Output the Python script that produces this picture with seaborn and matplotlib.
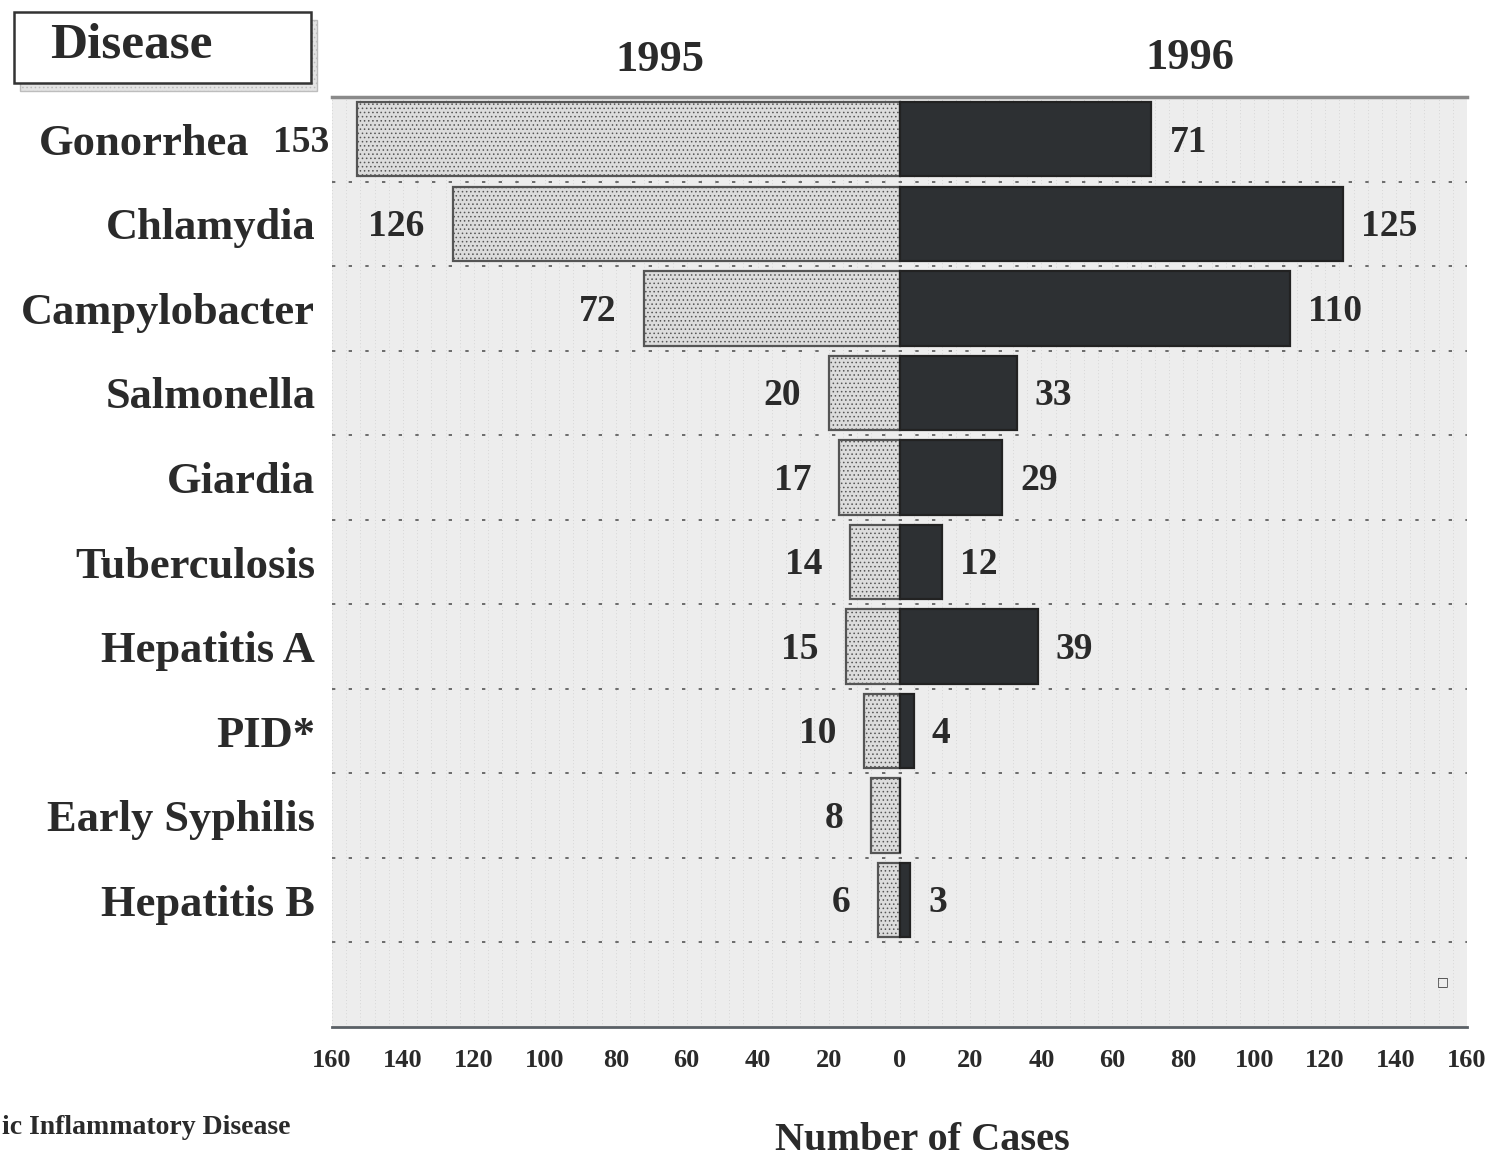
import matplotlib
matplotlib.use("Agg")
import matplotlib.pyplot as plt
import matplotlib.patches as mpatches
import matplotlib.transforms as mtransforms
import seaborn as sns
import pandas as pd

# ---- data ----
diseases = ["Gonorrhea", "Chlamydia", "Campylobacter", "Salmonella", "Giardia",
            "Tuberculosis", "Hepatitis A", "PID*", "Early Syphilis", "Hepatitis B"]
cases_1995 = [153, 126, 72, 20, 17, 14, 15, 10, 8, 6]
cases_1996 = [71, 125, 110, 33, 29, 12, 39, 4, 0, 3]
years = ["1995", "1996"]
xticks = list(range(-160, 161, 20))
xtick_labels = [str(abs(t)) for t in xticks]

df = pd.DataFrame({
    "disease": diseases * 2,
    "year": [years[0]] * len(diseases) + [years[1]] * len(diseases),
    "cases": cases_1995 + cases_1996,
})
df["signed"] = df.apply(lambda r: -r["cases"] if r["year"] == years[0] else r["cases"], axis=1)

sns.set_theme(style="white")
plt.rcParams["font.family"] = ["Liberation Serif", "DejaVu Serif"]
plt.rcParams["font.weight"] = "bold"
plt.rcParams["hatch.linewidth"] = 0.6

W, H = 1493, 1157
fig = plt.figure(figsize=(W / 100, H / 100), dpi=100)
fig.patch.set_facecolor("white")
ax = fig.add_axes([332 / W, 1 - 1027 / H, (1467 - 332) / W, (1027 - 97) / H])
ax.set_facecolor("#ededed")

light = "#dcdcdc"
dark = "#2c3034"
sns.barplot(data=df, x="signed", y="disease", hue="year", order=diseases,
            hue_order=years, dodge=False, orient="h", width=0.88,
            palette={years[0]: light, years[1]: dark}, edgecolor="#222222",
            linewidth=1.6, legend=False, ax=ax)

for p in ax.containers[0]:
    p.set_hatch("....")
    p.set_edgecolor("#555555")

# value labels
for i, (a, b) in enumerate(zip(cases_1995, cases_1996)):
    if a:
        ax.annotate(str(a), xy=(-a, i), xytext=(-20, -2), textcoords="offset points",
                    ha="right", va="center", fontsize=27, fontweight="bold", color="#2a2a2a")
    if b:
        ax.annotate(str(b), xy=(b, i), xytext=(13, -2), textcoords="offset points",
                    ha="left", va="center", fontsize=27, fontweight="bold", color="#2a2a2a")

# row separators
for i in range(len(diseases)):
    ax.axhline(i + 0.5, color="#555555", lw=1.2, ls=(0, (2, 8)), zorder=0.5)

# light dotted texture
for x in range(-160, 161, 4):
    ax.axvline(x, color="#d0d0d0", lw=0.6, ls=(0, (1, 3)), zorder=0.2)

ax.set_xlim(-160, 160)
ax.set_ylim(len(diseases) + 0.5, -0.5)
ax.set_xticks(xticks)
ax.set_xticklabels(xtick_labels, fontsize=19, fontweight="bold", color="#2a2a2a")
ax.tick_params(axis="x", length=0, pad=16)
ax.tick_params(axis="y", length=0, pad=12)
ax.set_yticklabels(diseases, fontsize=32, fontweight="bold", color="#2a2a2a")
# Gonorrhea label shifted left to make room for its 1995 value
for lab in ax.get_yticklabels():
    if lab.get_text() == diseases[0]:
        lab.set_transform(lab.get_transform() +
                          mtransforms.ScaledTranslation(-66 / 100, 0, fig.dpi_scale_trans))
ax.set_xlabel("")
ax.set_ylabel("")

for s in ["left", "right"]:
    ax.spines[s].set_visible(False)
ax.spines["bottom"].set_color("#5a6066")
ax.spines["bottom"].set_linewidth(2)
ax.spines["top"].set_color("#8a8a8a")
ax.spines["top"].set_linewidth(2.5)

# year headers
fig.text(660 / W, 1 - 60 / H, years[0], ha="center", va="center", fontsize=32,
         fontweight="bold", color="#2a2a2a")
fig.text(1190 / W, 1 - 58 / H, years[1], ha="center", va="center", fontsize=32,
         fontweight="bold", color="#2a2a2a")

# Disease box with shadow
shadow = mpatches.Rectangle((20 / W, 1 - 91 / H), 297 / W, 71 / H, transform=fig.transFigure,
                            facecolor="#e4e4e4", edgecolor="#bdbdbd", lw=1, hatch="....")
box = mpatches.Rectangle((14 / W, 1 - 83 / H), 297 / W, 71 / H, transform=fig.transFigure,
                         facecolor="white", edgecolor="#333333", lw=1.8)
fig.patches.extend([shadow, box])
fig.text(50 / W, 1 - 46 / H, "Disease", ha="left", va="center", fontsize=37,
         fontweight="bold", color="#2a2a2a")

# axis title and footnote (footnote is cropped at the left edge in the reference)
fig.text(922 / W, 1 - 1140 / H, "Number of Cases", ha="center", va="center", fontsize=29,
         fontweight="bold", color="#2a2a2a")
fig.text(2 / W, 1 - 1127 / H, "ic Inflammatory Disease", ha="left", va="center",
         fontsize=20, fontweight="bold", color="#2a2a2a")
fig.text(1443 / W, 1 - 982 / H, "\u25a1", ha="center", va="center", fontsize=9,
         color="#333333", family=["DejaVu Sans"])

fig.savefig("out.png", dpi=100)
